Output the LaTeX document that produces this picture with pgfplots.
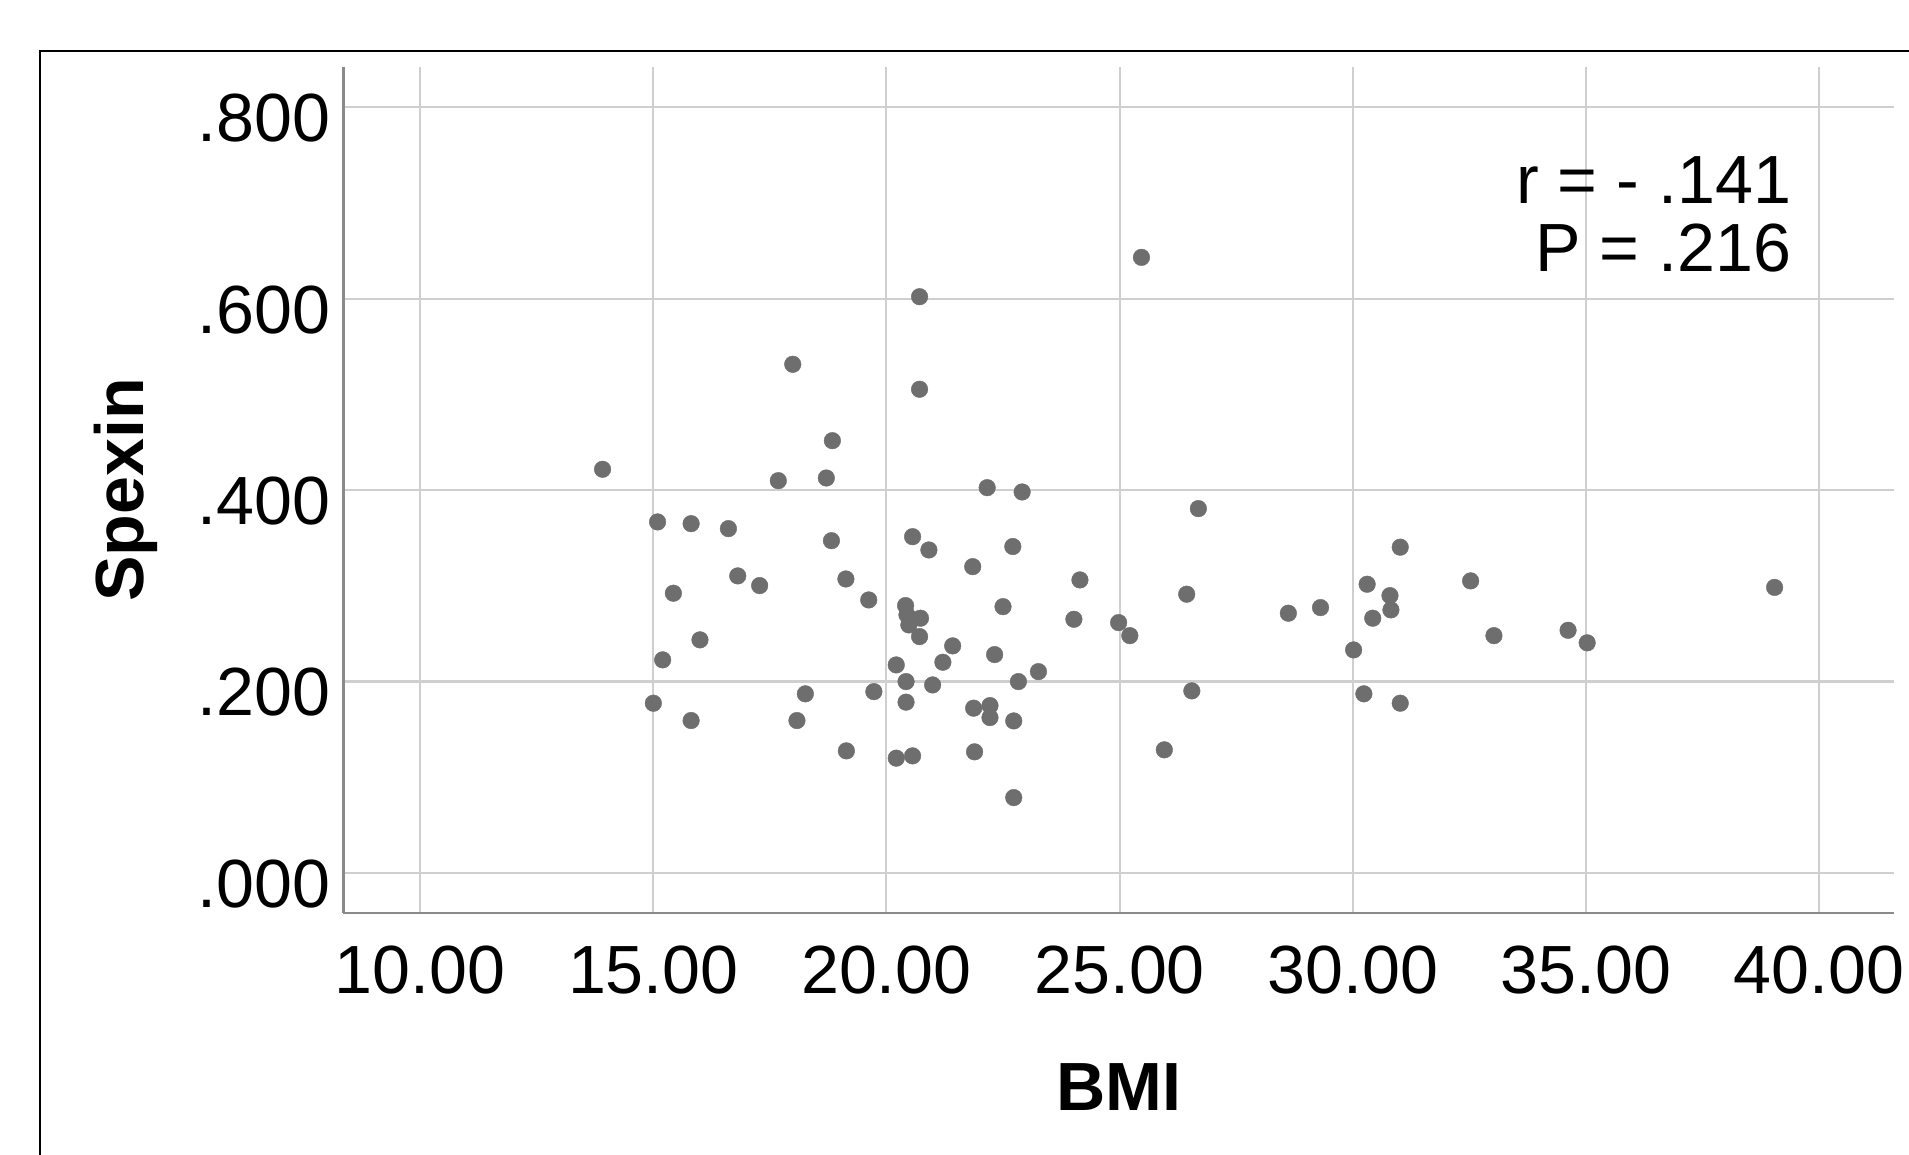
\documentclass[border=0pt]{standalone}
\usepackage{fontspec}
\setmainfont{Liberation Sans}
\usepackage{pgfplots}
\pgfplotsset{compat=1.18}
\definecolor{dotgray}{HTML}{6E6E6E}
\definecolor{gridgray}{HTML}{CFCFCF}
\definecolor{spinegray}{HTML}{8A8A8A}

% BMI vs Spexin
\pgfplotstableread{
bmi spexin
13.91 0.4217
20.71 0.6020
17.99 0.5314
20.71 0.5053
18.84 0.4516
17.68 0.4098
18.71 0.4126
22.16 0.4025
22.91 0.3980
15.09 0.3667
15.81 0.3649
16.61 0.3597
18.82 0.3471
20.56 0.3513
20.91 0.3374
22.71 0.3410
21.85 0.3200
16.81 0.3103
17.28 0.3002
15.43 0.2922
19.13 0.3071
19.62 0.2852
20.41 0.2793
20.44 0.2696
20.73 0.2661
20.48 0.2591
20.71 0.2469
22.50 0.2782
16.00 0.2435
21.42 0.2372
15.20 0.2226
21.21 0.2201
22.32 0.2281
20.21 0.2173
23.26 0.2103
20.42 0.1999
20.99 0.1964
22.83 0.1999
18.26 0.1871
19.73 0.1894
15.00 0.1773
20.42 0.1784
21.87 0.1721
22.22 0.1748
22.22 0.1623
22.73 0.1588
15.81 0.1592
18.08 0.1592
19.14 0.1275
20.21 0.1199
20.56 0.1223
21.89 0.1265
22.73 0.0787
25.47 0.6431
26.69 0.3806
31.02 0.3403
24.15 0.3061
32.53 0.3051
30.31 0.3016
26.44 0.2912
30.80 0.2897
29.31 0.2772
28.62 0.2713
30.82 0.2748
30.43 0.2661
24.02 0.2650
24.98 0.2615
25.22 0.2479
33.03 0.2479
30.02 0.2330
26.55 0.1902
30.24 0.1871
31.02 0.1773
25.96 0.1286
34.62 0.2535
35.03 0.2404
39.05 0.2983
}\spexin

\begin{document}
\begin{tikzpicture}
\begin{axis}[
  scale only axis,
  width=382.2pt, height=208.5pt,
  xmin=8.35, xmax=41.62, ymin=-0.042, ymax=0.842,
  axis x line=bottom, axis y line=left,
  axis line style={-, spinegray, line width=0.6pt},
  xtick={10,15,20,25,30,35,40},
  xticklabels={10.00,15.00,20.00,25.00,30.00,35.00,40.00},
  ytick={0,0.2,0.4,0.6,0.8},
  yticklabels={.000,.200,.400,.600,.800},
  major tick length=0pt,
  grid=major,
  major grid style={gridgray, line width=0.5pt},
  tick label style={font=\fontsize{16.8}{20}\selectfont, inner sep=0pt},
  xticklabel style={anchor=north, yshift=-7.8pt},
  yticklabel style={anchor=east, xshift=-3pt, yshift=-2.7pt},
  xlabel={BMI}, ylabel={Spexin},
  every axis x label/.style={at={(rel axis cs:0.5,-0.2058)}, anchor=center,
    font=\fontsize{16.8}{20}\selectfont\bfseries},
  every axis y label/.style={at={(rel axis cs:-0.1405,0.5)}, rotate=90, anchor=center,
    font=\fontsize{16.8}{20}\selectfont\bfseries},
]
\addplot[only marks, mark=*, mark size=2.05pt,
  mark options={fill=dotgray, draw=dotgray, line width=0.1pt}] table[x=bmi, y=spexin] {\spexin};
\node[anchor=base east, inner sep=0pt, font=\fontsize{16.8}{20}\selectfont]
  at (axis cs:39.42,0.6992) {r = - .141};
\node[anchor=base east, inner sep=0pt, font=\fontsize{16.8}{20}\selectfont]
  at (axis cs:39.42,0.6284) {P = .216};
\end{axis}
% outer chart frame, cut off on the right and bottom like the source
\draw[black, line width=0.6pt] (-74.7pt,-120pt) rectangle (440pt,212.4pt);
\pgfresetboundingbox
\path[use as bounding box] (-84.6pt,-59.4pt) rectangle (385.8pt,225pt);
\end{tikzpicture}
\end{document}
